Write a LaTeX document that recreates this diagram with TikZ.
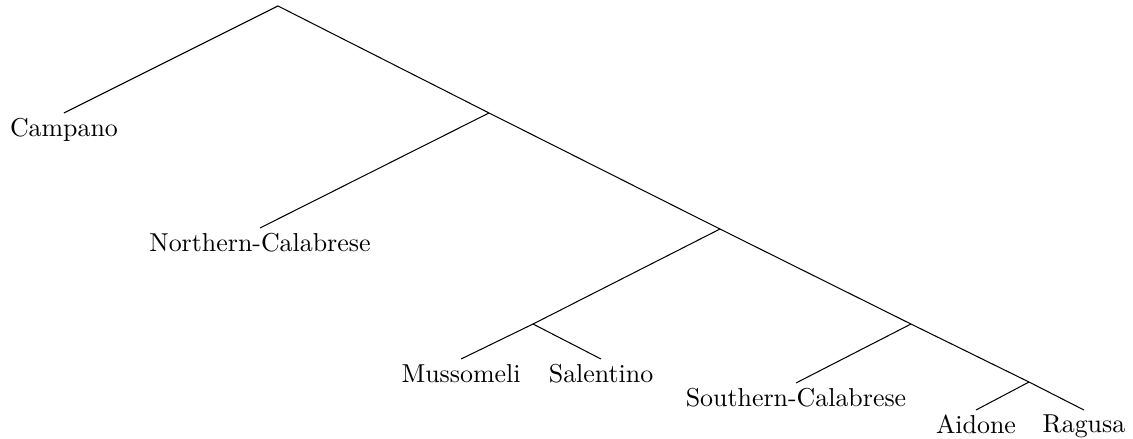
\documentclass[tikz,border=0pt]{standalone}
\usepackage{tikz}
\usetikzlibrary{positioning,calc}

\begin{document}
\begin{tikzpicture}[every node/.style={font=\normalsize},
  leaf/.style={anchor=north, inner sep=1.8pt}]
\useasboundingbox (0,0) rectangle (15.375,-5.957);
% ---- inner branching points
\coordinate (root) at (3.772,-0.081);
\coordinate (b1) at (6.636,-1.533);
\coordinate (b2) at (9.770,-3.108);
\coordinate (b3) at (7.233,-4.397);
\coordinate (b4) at (12.362,-4.397);
\coordinate (b5) at (13.964,-5.184);
% ---- dialect leaves
\node[leaf] (campano) at (0.868,-1.533) {Campano};
\node[leaf] (ncal) at (3.528,-3.094) {Northern-Calabrese};
\node[leaf] (musso) at (6.256,-4.872) {Mussomeli};
\node[leaf] (salen) at (8.156,-4.872) {Salentino};
\node[leaf] (scal) at (10.802,-5.197) {Southern-Calabrese};
\node[leaf] (aidone) at (13.244,-5.564) {Aidone};
\node[leaf] (ragusa) at (14.710,-5.564) {Ragusa};
% ---- branches
\draw (campano.north) -- (root) -- (b1) -- (b2) -- (b4) -- (b5) -- (ragusa.north);
\draw (b1) -- (ncal.north);
\draw (b2) -- (b3);
\draw (musso.north) -- (b3) -- (salen.north);
\draw (b4) -- (scal.north);
\draw (b5) -- (aidone.north);
\end{tikzpicture}
\end{document}
